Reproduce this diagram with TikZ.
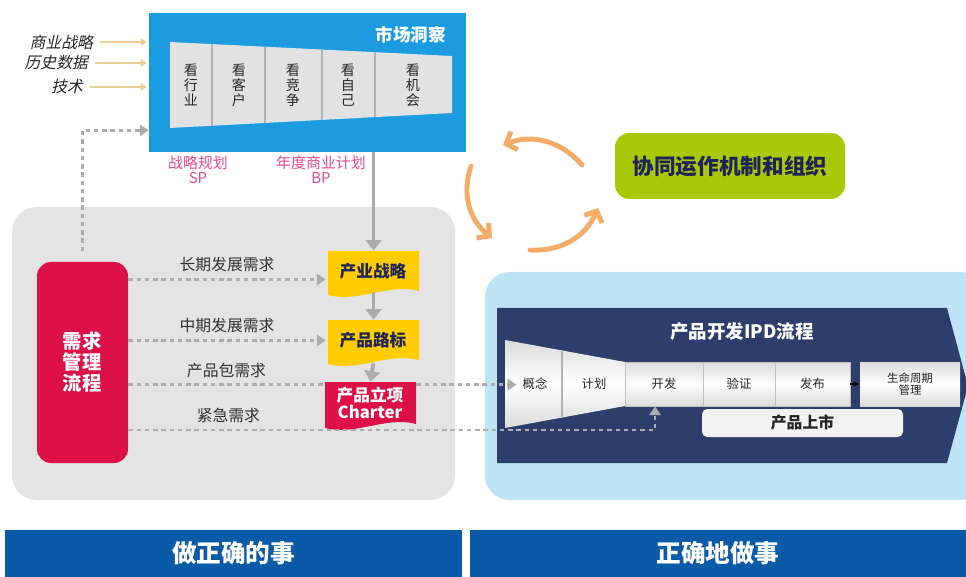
\documentclass[tikz,border=0pt]{standalone}
\usepackage{fontspec}
\setmainfont[AutoFakeSlant=0.22]{Noto Sans CJK SC}
\usetikzlibrary{shapes, arrows.meta, calc, positioning, fit}
\definecolor{insightblue}{RGB}{28,155,225}
\definecolor{barblue}{RGB}{10,90,168}
\definecolor{ipdnavy}{RGB}{46,62,108}
\definecolor{skyblue}{RGB}{190,228,246}
\definecolor{panelgray}{RGB}{228,228,228}
\definecolor{reqred}{RGB}{222,16,72}
\definecolor{docyellow}{RGB}{255,204,0}
\definecolor{teamgreen}{RGB}{168,200,8}
\definecolor{cycleorange}{RGB}{242,172,104}
\definecolor{inputtan}{RGB}{236,206,150}
\definecolor{planpink}{RGB}{228,72,140}
\definecolor{darknavy}{RGB}{30,35,90}
\definecolor{dotgray}{RGB}{172,172,172}
\definecolor{cellgray}{RGB}{226,226,226}

\tikzset{
  dotline/.style={draw=dotgray, line width=1.6pt, dash pattern=on 2.5pt off 2.2pt},
  dotarrow/.style={dotline, -{Triangle[length=5pt, width=6.5pt]}},
  flowarrow/.style={draw=dotgray, line width=2.2pt, -{Triangle[length=6pt, width=9pt]}},
  inarrow/.style={draw=inputtan, line width=0.9pt, shorten <=3pt, shorten >=1pt, -{Triangle[length=3.5pt, width=4pt]}},
  cyclearrow/.style={draw=cycleorange, line width=2.8pt, line cap=round, -{Straight Barb[length=5pt, width=11pt]}},
  inlabel/.style={inner sep=1pt, font=\fontsize{9}{10}\selectfont\itshape, text=black!85},
  planlabel/.style={align=center, text=planpink, font=\fontsize{8.5}{8.5}\selectfont},
  seecell/.style={align=center, font=\fontsize{8}{8.5}\selectfont, text=black!85},
  reqlabel/.style={font=\fontsize{9}{10}\selectfont, text=black!80},
  box/.style={inner sep=0},
  docfont/.style={font=\fontsize{9.5}{9.5}\selectfont\bfseries, align=center},
  ipdcell/.style={top color=gray!28, bottom color=gray!28, middle color=white},
  ipdtext/.style={font=\fontsize{7}{7.5}\selectfont, text=black!85, align=center},
  bartext/.style={text=white, font=\fontsize{14}{14}\selectfont\bfseries}
}
\newcommand{\docshape}[5]{\fill [#5] (#1,#2) -- (#3,#2) -- (#3,{#4-4}) .. controls ({#1+0.65*(#3-#1)},{#4-12}) and ({#1+0.35*(#3-#1)},{#4+8}) .. (#1,#4) -- cycle;}

\begin{document}
\begin{tikzpicture}[x=0.02cm, y=-0.02cm]
\useasboundingbox (0,0) rectangle (966,577);

\node [fit={(12,207) (455,500)}, box, fill=panelgray, rounded corners=14pt] (whatpanel) {};
\node [fit={(485,272) (985,500)}, box, fill=skyblue, rounded corners=14pt] (howpanel) {};

\node [fit={(149,13) (466,152)}, box, fill=insightblue] (insight) {};
\node [anchor=east, text=white, font=\fontsize{10}{12}\selectfont\bfseries] (insighttitle) at (452,35) {市场洞察};
\coordinate (ftl) at (170,42); \coordinate (ftr) at (452,56); \coordinate (fbr) at (452,113); \coordinate (fbl) at (170,128);
\fill [cellgray] (ftl) -- (ftr) -- (fbr) -- (fbl) -- cycle;
\draw [gray!60, line width=1pt] ($(ftl)!0.149!(ftr)$) -- ($(fbl)!0.149!(fbr)$);
\draw [gray!60, line width=1pt] ($(ftl)!0.337!(ftr)$) -- ($(fbl)!0.337!(fbr)$);
\draw [gray!60, line width=1pt] ($(ftl)!0.539!(ftr)$) -- ($(fbl)!0.539!(fbr)$);
\draw [gray!60, line width=1pt] ($(ftl)!0.727!(ftr)$) -- ($(fbl)!0.727!(fbr)$);
\node [seecell] (seeind) at (191,85) {看\\行\\业};
\node [seecell] (seecus) at (239,85) {看\\客\\户};
\node [seecell] (seecomp) at (293,85) {看\\竞\\争};
\node [seecell] (seeself) at (348,85) {看\\自\\己};
\node [seecell] (seeopp) at (413,85) {看\\机\\会};

\node [inlabel, anchor=east] (bizstrat) at (95,42) {商业战略};
\node [inlabel, anchor=east] (history) at (90,63) {历史数据};
\node [inlabel, anchor=east] (tech) at (85,87) {技术};
\draw [inarrow] (bizstrat.east) -- (bizstrat.east -| insight.west);
\draw [inarrow] (history.east) -- (history.east -| insight.west);
\draw [inarrow] (tech.east) -- (tech.east -| insight.west);

\node [planlabel] (spplan) at (198,170) {战略规划\\SP};
\node [planlabel] (bpplan) at (321,170) {年度商业计划\\BP};

\node [fit={(37,262) (128,463)}, box, fill=reqred, rounded corners=8pt] (reqmgmt) {};
\node [text=white, align=center, font=\fontsize{11}{12}\selectfont\bfseries] (reqmgmt-t) at (82,362) {需求\\管理\\流程};

\docshape{328}{251}{419}{295}{docyellow}
\node [fit={(328,251) (419,292)}, box] (indstrat) {};
\node [docfont, text=darknavy] (indstrat-t) at (373,271) {产业战略};
\docshape{328}{320}{419}{364}{docyellow}
\node [fit={(328,320) (419,361)}, box] (roadmap) {};
\node [docfont, text=darknavy] (roadmap-t) at (373,340) {产品路标};
\docshape{325}{382}{416}{428}{reqred}
\node [fit={(325,382) (416,425)}, box] (charter) {};
\node [docfont, text=white] (charter-t) at (370,403) {产品立项\\Charter};

\draw [flowarrow] (indstrat.north |- insight.south) -- (indstrat.north);
\draw [flowarrow] (indstrat.south) -- (roadmap.north);
\draw [flowarrow] (roadmap.south) ++(0,2) -- (charter.north);
\draw [dotarrow, shorten <=6pt] (reqmgmt.north) |- ($(insight.south west)+(0,-22)$);

\coordinate (longin) at ($(indstrat.west)+(-2,8)$);
\draw [dotarrow] (reqmgmt.east |- longin) -- (longin) node [midway, above, reqlabel] {长期发展需求};
\draw [dotarrow] (reqmgmt.east |- roadmap.west) -- ($(roadmap.west)+(-2,0)$) node [midway, above, reqlabel] {中期发展需求};
\coordinate (pkg) at ($(charter.north west)+(0,3)$);
\draw [dotline] (reqmgmt.east |- pkg) -- (pkg) node [midway, above, reqlabel] {产品包需求};

\fill [ipdnavy] (497,308) -- (947,308) -- (968,386) -- (947,463) -- (497,463) -- cycle;
\node [text=white, font=\fontsize{10.5}{12}\selectfont\bfseries] (ipdtitle) at (742,332) {产品开发IPD流程};
\coordinate (gtl) at (505,340); \coordinate (gtr) at (625,362); \coordinate (gbr) at (625,406); \coordinate (gbl) at (505,428);
\shade [ipdcell] (gtl) -- (gtr) -- (gbr) -- (gbl) -- cycle;
\draw [gray!60, line width=0.8pt] ($(gtl)!0.475!(gtr)$) -- ($(gbl)!0.475!(gbr)$);
\node [ipdtext] (concept) at (535,384) {概念};
\node [ipdtext] (plan) at (594,384) {计划};
\node [fit={(625,362) (703,406)}, box, ipdcell, draw=gray!50] (develop) {};
\node [fit={(703,362) (775,406)}, box, ipdcell, draw=gray!50] (verify) {};
\node [fit={(775,362) (850,406)}, box, ipdcell, draw=gray!50] (release) {};
\node [fit={(860,362) (960,406)}, box, ipdcell] (lifecycle) {};
\node [ipdtext] (develop-t) at (develop) {开发};
\node [ipdtext] (verify-t) at (verify) {验证};
\node [ipdtext] (release-t) at (release) {发布};
\node [ipdtext, font=\fontsize{6.5}{7}\selectfont] (lifecycle-t) at (lifecycle) {生命周期\\管理};
\draw [-{Latex[length=3pt, width=3pt]}, line width=0.8pt] (release.east) -- (lifecycle.west);
\node [fit={(702,409) (903,437)}, box, fill=gray!10, rounded corners=3pt] (launch) {};
\node [text=black!85, font=\fontsize{9}{10}\selectfont\bfseries] (launch-t) at (launch) {产品上市};

\draw [dotarrow] (charter.east |- pkg) -- (concept.west |- pkg);
\coordinate (urgturn) at (655,430);
\draw [dotarrow] (reqmgmt.east |- urgturn) -- node [pos=0.19, above, reqlabel] {紧急需求} (urgturn) -- (urgturn |- develop.south);

\node [fit={(615,133) (845,199)}, box, fill=teamgreen, rounded corners=8pt] (collab) {};
\node [text=darknavy, font=\fontsize{12.3}{13}\selectfont\bfseries] (collab-t) at (collab) {协同运作机制和组织};

\coordinate (cyca) at (582,165); \coordinate (cycb) at (503,145);
\coordinate (cycc) at (471,166); \coordinate (cycd) at (492,238);
\coordinate (cyce) at (530,250); \coordinate (cycf) at (598,208);
\draw [cyclearrow] (cyca) to [bend right=35] (cycb);
\draw [cyclearrow] (cycc) to [bend right=35] (cycd);
\draw [cyclearrow] (cyce) to [bend right=35] (cycf);

\node [fit={(5,530) (462,577)}, box, fill=barblue] (rightthing) {};
\node [fit={(470,530) (966,577)}, box, fill=barblue] (thingright) {};
\node [bartext] (rightthing-t) at (rightthing) {做正确的事};
\node [bartext] (thingright-t) at (thingright) {正确地做事};
\end{tikzpicture}
\end{document}
